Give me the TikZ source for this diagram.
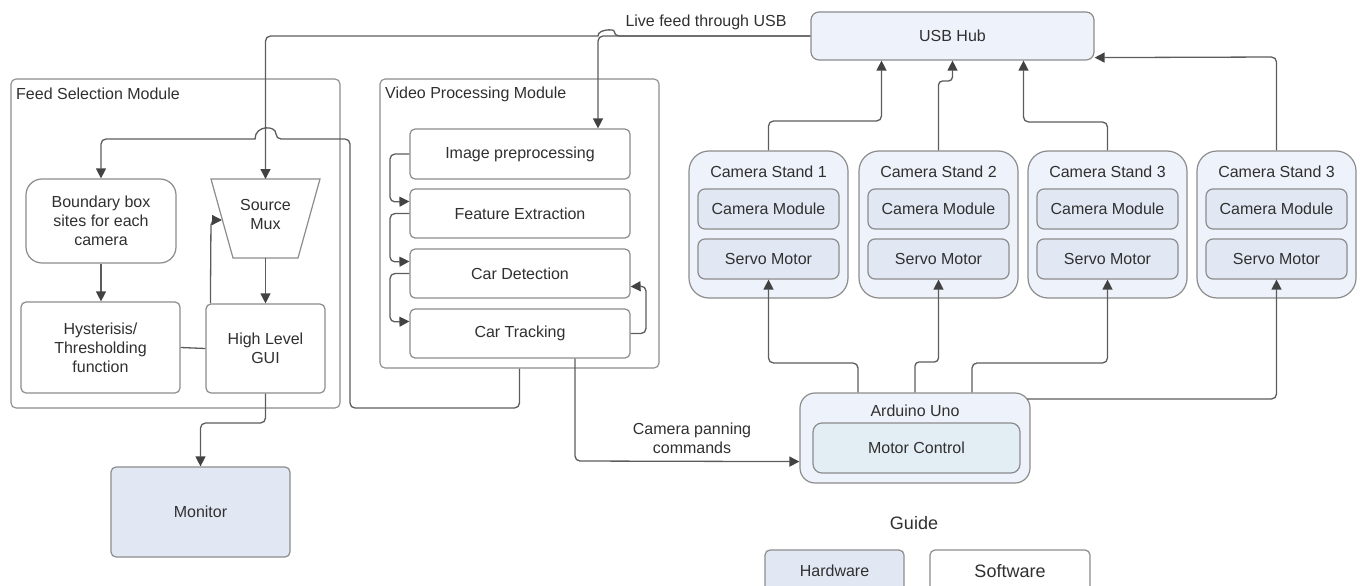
\documentclass[tikz,border=0pt]{standalone}
\usepackage{fontspec}
\setmainfont{Liberation Sans}
\usetikzlibrary{arrows.meta,calc}

\definecolor{txt}{HTML}{303030}
\definecolor{edge}{HTML}{8C8C8C}
\definecolor{wire}{HTML}{5C5C5C}
\definecolor{tipc}{HTML}{424242}
\definecolor{hwpale}{HTML}{EEF2FA}
\definecolor{hwblue}{HTML}{E2E8F3}
\definecolor{ctrlblue}{HTML}{E3EDF4}

\begin{document}
\begin{tikzpicture}[x=1pt,y=-1pt,
  every node/.style={font=\fontsize{16}{19}\selectfont, text=txt},
  sz/.style 2 args={minimum width=#1, minimum height=#2},
  box/.style={draw=edge, line width=1.2pt, rounded corners=5pt, fill=white,
              inner sep=0pt, align=center},
  frame/.style={draw=edge, line width=1.1pt, rounded corners=5pt, inner sep=0pt},
  wire/.style={draw=wire, line width=1.3pt, rounded corners=5pt},
  arr/.style={wire, -{Triangle[length=10pt, width=10pt, color=tipc]}},
  lbl/.style={inner sep=0pt, align=center}
]
\useasboundingbox (0,0) rectangle (1360,586);
\clip (0,0) rectangle (1360,586);

% ---------- module frames ----------
\node[frame, sz={329}{329}] (feedmod) at (175.5,243.5) {};
\node[lbl, anchor=west] (feedlbl) at (16,94) {Feed Selection Module};
\node[frame, sz={279}{289}] (vidmod) at (519.5,223.5) {};
\node[lbl, anchor=west] (vidlbl) at (385,94) {Video Processing Module};

% ---------- USB hub ----------
\node[box, sz={283}{48}, rounded corners=8pt, fill=hwpale] (usb) at (952.5,36) {USB Hub};

% ---------- feed selection ----------
\node[box, sz={150}{84}, rounded corners=16pt] (bound) at (101,221)
  {Boundary box\\sites for each\\camera};
\node[box, sz={159}{91}] (hyst) at (100.5,347.5)
  {Hysterisis/\\Thresholding\\function};
\node[box, sz={119}{89}] (gui) at (265.5,348.5) {High Level\\GUI};
\draw[draw=edge, line width=1.2pt, fill=white]
  (211,179) -- (320,179) -- (298,258) -- (233,258) -- cycle;
\node[lbl] (mux) at (265.5,214) {Source\\Mux};
\coordinate (muxN) at (265.5,179);
\coordinate (muxS) at (265.5,258);
\coordinate (muxW) at (222,220);

\node[box, sz={179}{90}, fill=hwblue] (monitor) at (200.5,512) {Monitor};

% ---------- video processing ----------
\node[box, sz={220}{50}] (img)  at (520,154)   {Image preprocessing};
\node[box, sz={220}{49}] (feat) at (520,213.5) {Feature Extraction};
\node[box, sz={220}{49}] (det)  at (520,273.5) {Car Detection};
\node[box, sz={220}{49}] (trk)  at (520,333.5) {Car Tracking};

% ---------- camera stands ----------
\foreach \i/\cx/\n in {1/768.5/1, 2/938.5/2, 3/1107.5/3, 4/1276.5/3} {
  \node[box, sz={159}{147}, rounded corners=20pt, fill=hwpale] (stand\i) at (\cx,224.5) {};
  \node[lbl] (stand\i lbl) at (\cx,172) {Camera Stand \n};
  \node[box, sz={141}{40}, rounded corners=7pt, fill=hwblue] (cam\i) at (\cx,209) {Camera Module};
  \node[box, sz={141}{40}, rounded corners=7pt, fill=hwblue] (servo\i) at (\cx,259) {Servo Motor};
}

% ---------- Arduino ----------
\node[box, sz={230}{90}, rounded corners=15pt, fill=hwpale] (ard) at (915,438) {};
\node[lbl] (ardlbl) at (915,411) {Arduino Uno};
\node[box, sz={207}{50}, rounded corners=9pt, fill=ctrlblue] (motor) at (916.5,448) {Motor Control};

% ---------- guide ----------
\node[lbl, font=\fontsize{18}{21}\selectfont] (guide) at (914,523) {Guide};
\node[box, sz={139}{42}, fill=hwblue] (hw) at (834.5,571) {Hardware};
\node[box, sz={160}{42}, font=\fontsize{18}{21}\selectfont] (sw) at (1010,571) {Software};

% ---------- connectors: USB feed ----------
\draw[arr] (usb.west) -- (598,36) -- (img.north -| 598,0);
\draw[arr] (usb.west) -- (614,36)
  [sharp corners] .. controls (614,29) and (598,29) .. (598,36)
  [rounded corners=5pt] -- (265.5,36) -- (muxN);
\node[lbl, anchor=south] (feedtxt) at (706,30) {Live feed through USB};

% ---------- connectors: feed selection ----------
\draw[arr] (vidmod.south) -- (519.5,408) -- (350,408) -- (350,139) -- (276,139)
  [sharp corners] .. controls (276,125) and (255,125) .. (255,139)
  [rounded corners=5pt] -- (101,139) -- (bound.north);
\draw[arr] (bound.south) -- (hyst.north -| bound.south);
\draw[arr] (muxS) -- (gui.north);
\draw[wire] (hyst.east) -- (gui.west);
\draw[arr] ($(gui.north west)+(5,0)$) -- (211,220) -- (muxW);
\draw[arr] (gui.south) -- (265.5,423) -- (200.5,423) -- (monitor.north);

% ---------- connectors: video processing chain ----------
\draw[arr] (img.west)  -- (390,154)   -- (390,202) -- ($(feat.north west)+(0,13)$);
\draw[arr] (feat.west) -- (390,213.5) -- (390,262) -- ($(det.north west)+(0,13)$);
\draw[arr] (det.west)  -- (390,273.5) -- (390,322) -- ($(trk.north west)+(0,13)$);
\draw[arr] (trk.east)  -- (646,333.5) -- (646,286) -- ($(det.south east)+(0,-12)$);

% ---------- connectors: panning commands ----------
\draw[arr] ($(trk.south)+(55,0)$) -- (575,461) -- ($(ard.south west)+(0,-22)$);
\node[lbl] (pantxt) at (692,438) {Camera panning\\commands};

% ---------- connectors: stands to USB hub ----------
\draw[arr] (stand1.north) -- (768.5,121) -- (881.5,121) -- (usb.south -| 881.5,0);
\draw[arr, rounded corners=4pt] (stand2.north) -- (938.5,81) -- (952.5,81) -- (usb.south);
\draw[arr] (stand3.north) -- (1107.5,122) -- (1023.5,122) -- (usb.south -| 1023.5,0);
\draw[arr] (stand4.north) -- (1276.5,57) -- ($(usb.south east)+(0,-3)$);

% ---------- connectors: Arduino to servos ----------
\draw[arr] ($(ard.north)+(-57,0)$) -- (858,363) -- (768.5,363) -- (servo1.south);
\draw[arr, rounded corners=4pt] (ard.north) -- (915,362) -- (938.5,362) -- (servo2.south);
\draw[arr] ($(ard.north)+(57,0)$) -- (972,363) -- (1107.5,363) -- (servo3.south);
\draw[arr] (1027,399) -- (1276.5,399) -- (servo4.south);
\end{tikzpicture}
\end{document}
